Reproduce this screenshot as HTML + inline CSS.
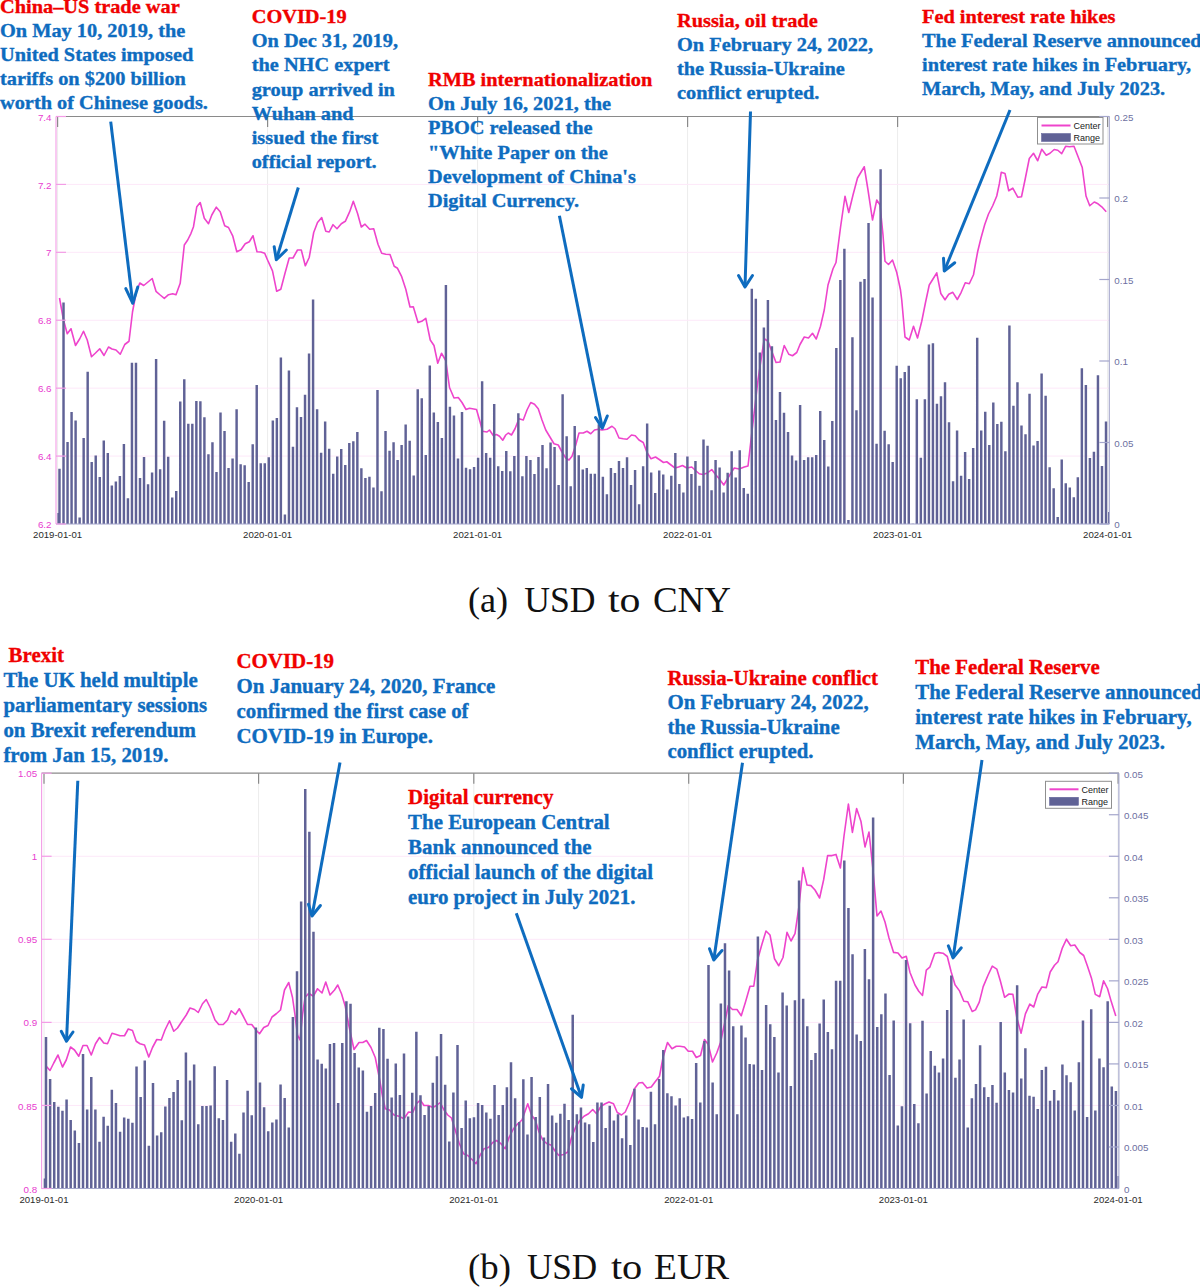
<!DOCTYPE html>
<html><head><meta charset="utf-8"><title>USD exchange rates</title><style>
html,body{margin:0;padding:0;background:#fff;overflow:hidden;width:1200px;height:1288px;}
svg{display:block;}
.an{font-family:"Liberation Serif",serif;font-weight:bold;font-size:19.35px;stroke-width:0.35px;}
.an2{font-family:"Liberation Serif",serif;font-weight:bold;font-size:20.9px;stroke-width:0.35px;}
.ax{font-family:"Liberation Sans",sans-serif;font-size:9.8px;}
.xl{font-family:"Liberation Sans",sans-serif;font-size:9.6px;fill:#2a2a2a;}
.lg{font-family:"Liberation Sans",sans-serif;font-size:9px;fill:#1a1a1a;}
.cap{font-family:"Liberation Serif",serif;font-size:35px;fill:#111;}
</style></head>
<body><svg width="1200" height="1288" viewBox="0 0 1200 1288">
<rect x="0" y="0" width="1200" height="1288" fill="#fff"/>
<line x1="57.6" y1="116.5" x2="57.6" y2="524" stroke="#ececec" stroke-width="1"/>
<line x1="267.6" y1="116.5" x2="267.6" y2="524" stroke="#ececec" stroke-width="1"/>
<line x1="477.6" y1="116.5" x2="477.6" y2="524" stroke="#ececec" stroke-width="1"/>
<line x1="687.6" y1="116.5" x2="687.6" y2="524" stroke="#ececec" stroke-width="1"/>
<line x1="897.6" y1="116.5" x2="897.6" y2="524" stroke="#ececec" stroke-width="1"/>
<line x1="1107.6" y1="116.5" x2="1107.6" y2="524" stroke="#ececec" stroke-width="1"/>
<line x1="56" y1="184.42" x2="1109.3" y2="184.42" stroke="#fde8f9" stroke-width="1"/>
<line x1="56" y1="252.33" x2="1109.3" y2="252.33" stroke="#fde8f9" stroke-width="1"/>
<line x1="56" y1="320.25" x2="1109.3" y2="320.25" stroke="#fde8f9" stroke-width="1"/>
<line x1="56" y1="388.17" x2="1109.3" y2="388.17" stroke="#fde8f9" stroke-width="1"/>
<line x1="56" y1="456.08" x2="1109.3" y2="456.08" stroke="#fde8f9" stroke-width="1"/>
<polyline points="59.5,298 63.5,320 67.25,333.75 71,328.75 75.5,345.5 79.75,338.75 83.5,331.25 87.25,340 91.5,356.75 95.5,353 99.75,348.75 104,355.5 108.5,347 112,349 116,350 120.25,354.25 124.75,344.5 129,341.25 132.5,312 136.3,292 139.8,283 143.7,285.5 148,282 152.2,278.5 156,291.3 160.2,295 164.3,298.3 168.5,294.7 172.7,293.8 176,294.7 180.2,283.3 184.3,245 187.7,240 191,233.3 193.5,226.7 196.8,206.7 200.2,202.5 204.3,218.3 208.5,223.7 211.8,215 216.3,207.2 220.2,211.7 224.7,225.8 228.5,227.5 232.7,235.8 236.8,251.7 241,249.7 245.2,243.7 249.3,241.7 253,235.8 257,251.7 260.8,252 264.7,253.3 268.3,261.7 272.5,270.8 276.7,291.3 280.8,289.2 285,273.3 289.2,258 293,258 297.5,250 301.3,250 305.3,265.8 309.2,257.5 313.7,232.5 317.5,222.5 321.7,217.5 325.8,231.3 329.2,232 333,224.7 337,228.7 341.3,223.7 345.3,221.3 349.7,211.7 353.3,201.3 357.5,213.3 361.3,227 365,224.2 369.7,229.3 373.7,228.7 378,244.2 381.7,253.3 385.8,254.2 390,254.5 394.2,266.3 397.5,268.3 401.7,276.7 405.8,289.2 410,307 413.3,306.7 418,322.5 421.7,321.3 425.8,318.3 430.25,340 434,345.5 437.75,363.25 441.5,353.25 445.75,360.5 449.5,387.5 454,398 458.25,397.5 462,402.5 466,409.5 469.5,408.25 476.5,409.5 480.25,422.5 482.5,431.25 487,432 489.5,430 493.25,435.5 496.5,434.5 499.5,436.25 502.75,440.25 505.75,435 508.25,433 511.5,435 515,428.75 519,418.75 523.25,420 527,410 530.75,402.5 534.5,404.25 538.25,408.75 542,420 545.75,430 549.5,436.25 554,443.75 558.25,445 562,452 565.75,458 569,460 572,456.25 575.75,445 579,433 583.25,433 587,431.25 590.75,433.75 594.5,430 598.25,429.25 602,430 607,429.25 612,426.25 615,428.75 619,438 623.25,438.75 627,439.25 631.5,435 635.25,435.75 639,440 643.25,442.5 647,452.5 651,458.75 655.5,457 659.25,459.5 663.5,462.5 666.75,461.75 671,465 675,468 678.5,467 682.5,465.5 686.75,468 691.75,467 695.5,470.5 699.25,473.75 703,474.5 707.5,473 711.75,469.5 715.5,474.5 719.25,478.75 723.75,485 727.5,478.75 731.25,472.5 734.25,468 739.25,469 744.25,467 748,466 753,422.5 758,380 761.75,355 764.25,338.75 768,341.25 771.75,351.25 776,362.5 780,362 784.25,345.5 788.75,354.25 792.5,355.75 796.75,352.5 800,344.5 804.25,337 808.5,338 812.5,333.25 816.25,339 820.5,326.25 824.25,310 828,285 833,268.75 836,262.5 840.5,227.5 845,196.25 848.75,212.5 853,195 857.5,178 864.25,166.75 868,190 872.5,220 876.75,200 880,205 883,235 885,261.25 888.5,264.5 892.5,260 896.75,272.5 900.5,290 901.75,300 905,337 909.25,340 913.5,326.25 917.5,338 921.75,321.25 925.5,302.5 929.25,285 933.3,278.5 936.75,272.8 940.8,293.5 945,299.8 948.75,294.25 952.8,292.3 957.3,299.5 961.2,292.3 965.25,282.7 969.3,283.75 973.5,274.75 975.75,262 977.7,251.5 981,238 984.75,224.5 988.5,214 992.7,205.75 996.75,196 999.3,184 1001.25,172.3 1005,173.5 1008.75,190.75 1012.8,188.2 1017.75,197.2 1021.5,196.75 1025.25,178.75 1029.3,158.5 1033.5,153.25 1037.7,160.75 1041.75,149.2 1046.25,155.2 1050,153.25 1054.2,149.5 1057.8,150.25 1061.7,153.7 1065.75,146.2 1069.5,146.8 1074,146.2 1078.2,157 1082.25,167.5 1086,196 1089.75,205.75 1094.25,202 1098,203.8 1101.75,206.8 1106.25,211.75" fill="none" stroke="#ee44cc" stroke-width="1.6" stroke-linejoin="round"/>
<path d="M58.27 468.75h2.45v55.25h-2.45zM62.3 302.5h2.45v221.5h-2.45zM66.33 442h2.45v82h-2.45zM70.35 412h2.45v112h-2.45zM74.38 420.5h2.45v103.5h-2.45zM78.4 517.5h2.45v6.5h-2.45zM82.43 438h2.45v86h-2.45zM86.45 371.75h2.45v152.25h-2.45zM90.48 462h2.45v62h-2.45zM94.5 455.5h2.45v68.5h-2.45zM98.53 477h2.45v47h-2.45zM102.55 440.5h2.45v83.5h-2.45zM106.58 453h2.45v71h-2.45zM110.6 485.5h2.45v38.5h-2.45zM114.63 481.5h2.45v42.5h-2.45zM118.65 476h2.45v48h-2.45zM122.68 444h2.45v80h-2.45zM126.7 498.25h2.45v25.75h-2.45zM130.72 362.75h2.45v161.25h-2.45zM134.75 362.75h2.45v161.25h-2.45zM138.78 478h2.45v46h-2.45zM142.8 457h2.45v67h-2.45zM146.83 484.25h2.45v39.75h-2.45zM150.85 472.5h2.45v51.5h-2.45zM154.88 359h2.45v165h-2.45zM158.9 469.25h2.45v54.75h-2.45zM162.93 420.75h2.45v103.25h-2.45zM166.95 456.75h2.45v67.25h-2.45zM170.98 497.5h2.45v26.5h-2.45zM175 491h2.45v33h-2.45zM179.03 401.5h2.45v122.5h-2.45zM183.05 379.25h2.45v144.75h-2.45zM187.08 423.75h2.45v100.25h-2.45zM191.1 423.75h2.45v100.25h-2.45zM195.13 401h2.45v123h-2.45zM199.15 401.25h2.45v122.75h-2.45zM203.18 417.25h2.45v106.75h-2.45zM207.2 454.25h2.45v69.75h-2.45zM211.23 442.25h2.45v81.75h-2.45zM215.25 472h2.45v52h-2.45zM219.28 412.5h2.45v111.5h-2.45zM223.3 431h2.45v93h-2.45zM227.33 468h2.45v56h-2.45zM231.35 458.5h2.45v65.5h-2.45zM235.38 409.25h2.45v114.75h-2.45zM239.4 464.25h2.45v59.75h-2.45zM243.43 465.25h2.45v58.75h-2.45zM247.45 482h2.45v42h-2.45zM251.48 444.25h2.45v79.75h-2.45zM255.5 385h2.45v139h-2.45zM259.52 463.25h2.45v60.75h-2.45zM263.55 463.25h2.45v60.75h-2.45zM267.57 457.25h2.45v66.75h-2.45zM271.6 420.5h2.45v103.5h-2.45zM275.62 418h2.45v106h-2.45zM279.65 357.5h2.45v166.5h-2.45zM283.68 514.5h2.45v9.5h-2.45zM287.7 370.5h2.45v153.5h-2.45zM291.73 446.75h2.45v77.25h-2.45zM295.75 407.25h2.45v116.75h-2.45zM299.77 417h2.45v107h-2.45zM303.8 394.75h2.45v129.25h-2.45zM307.82 353.5h2.45v170.5h-2.45zM311.85 299.5h2.45v224.5h-2.45zM315.88 409.25h2.45v114.75h-2.45zM319.9 452.75h2.45v71.25h-2.45zM323.93 421.5h2.45v102.5h-2.45zM327.95 448.75h2.45v75.25h-2.45zM331.98 473.75h2.45v50.25h-2.45zM336 456.5h2.45v67.5h-2.45zM340.02 449h2.45v75h-2.45zM344.05 465h2.45v59h-2.45zM348.07 443h2.45v81h-2.45zM352.1 441.25h2.45v82.75h-2.45zM356.12 432h2.45v92h-2.45zM360.15 468.25h2.45v55.75h-2.45zM364.18 478h2.45v46h-2.45zM368.2 476.75h2.45v47.25h-2.45zM372.23 487.5h2.45v36.5h-2.45zM376.25 390h2.45v134h-2.45zM380.27 491.25h2.45v32.75h-2.45zM384.3 431h2.45v93h-2.45zM388.32 450.75h2.45v73.25h-2.45zM392.35 442.25h2.45v81.75h-2.45zM396.38 460h2.45v64h-2.45zM400.4 445h2.45v79h-2.45zM404.43 424.5h2.45v99.5h-2.45zM408.45 440.75h2.45v83.25h-2.45zM412.48 475.5h2.45v48.5h-2.45zM416.5 389.25h2.45v134.75h-2.45zM420.53 398.25h2.45v125.75h-2.45zM424.55 455h2.45v69h-2.45zM428.57 365.5h2.45v158.5h-2.45zM432.6 412.5h2.45v111.5h-2.45zM436.62 422h2.45v102h-2.45zM440.65 438h2.45v86h-2.45zM444.68 285h2.45v239h-2.45zM448.7 406.75h2.45v117.25h-2.45zM452.73 415.5h2.45v108.5h-2.45zM456.75 458.5h2.45v65.5h-2.45zM460.78 412h2.45v112h-2.45zM464.8 467.75h2.45v56.25h-2.45zM468.82 469.25h2.45v54.75h-2.45zM472.85 467h2.45v57h-2.45zM476.88 457.75h2.45v66.25h-2.45zM480.9 381.25h2.45v142.75h-2.45zM484.93 453h2.45v71h-2.45zM488.95 457.75h2.45v66.25h-2.45zM492.98 404h2.45v120h-2.45zM497 466.25h2.45v57.75h-2.45zM501.03 471h2.45v53h-2.45zM505.05 451h2.45v73h-2.45zM509.08 471.25h2.45v52.75h-2.45zM513.1 456h2.45v68h-2.45zM517.12 413.25h2.45v110.75h-2.45zM521.15 476.25h2.45v47.75h-2.45zM525.18 456h2.45v68h-2.45zM529.2 460h2.45v64h-2.45zM533.23 474h2.45v50h-2.45zM537.25 457h2.45v67h-2.45zM541.27 445h2.45v79h-2.45zM545.3 468.25h2.45v55.75h-2.45zM549.33 442.5h2.45v81.5h-2.45zM553.35 447h2.45v77h-2.45zM557.38 485h2.45v39h-2.45zM561.4 394.25h2.45v129.75h-2.45zM565.43 436.25h2.45v87.75h-2.45zM569.45 486.25h2.45v37.75h-2.45zM573.48 426h2.45v98h-2.45zM577.5 455.25h2.45v68.75h-2.45zM581.52 469.5h2.45v54.5h-2.45zM585.55 468h2.45v56h-2.45zM589.58 473.75h2.45v50.25h-2.45zM593.6 473.75h2.45v50.25h-2.45zM597.62 424.25h2.45v99.75h-2.45zM601.65 476.75h2.45v47.25h-2.45zM605.68 494.25h2.45v29.75h-2.45zM609.7 468h2.45v56h-2.45zM613.73 473h2.45v51h-2.45zM617.75 461h2.45v63h-2.45zM621.77 468h2.45v56h-2.45zM625.8 457.25h2.45v66.75h-2.45zM629.83 485h2.45v39h-2.45zM633.85 470h2.45v54h-2.45zM637.88 504.25h2.45v19.75h-2.45zM641.9 466.25h2.45v57.75h-2.45zM645.93 423.5h2.45v100.5h-2.45zM649.95 472.5h2.45v51.5h-2.45zM653.98 493h2.45v31h-2.45zM658 470.5h2.45v53.5h-2.45zM662.02 474.5h2.45v49.5h-2.45zM666.05 489.5h2.45v34.5h-2.45zM670.08 475.75h2.45v48.25h-2.45zM674.1 453h2.45v71h-2.45zM678.12 484h2.45v40h-2.45zM682.15 492.5h2.45v31.5h-2.45zM686.18 456.5h2.45v67.5h-2.45zM690.2 474h2.45v50h-2.45zM694.23 461h2.45v63h-2.45zM698.25 485.75h2.45v38.25h-2.45zM702.27 439.5h2.45v84.5h-2.45zM706.3 445.75h2.45v78.25h-2.45zM710.33 490.25h2.45v33.75h-2.45zM714.35 460h2.45v64h-2.45zM718.38 467.5h2.45v56.5h-2.45zM722.4 492.5h2.45v31.5h-2.45zM726.43 472.75h2.45v51.25h-2.45zM730.45 451.25h2.45v72.75h-2.45zM734.48 477.5h2.45v46.5h-2.45zM738.5 450.25h2.45v73.75h-2.45zM742.53 488h2.45v36h-2.45zM746.55 493.75h2.45v30.25h-2.45zM750.58 288.75h2.45v235.25h-2.45zM754.6 298.75h2.45v225.25h-2.45zM758.62 352.5h2.45v171.5h-2.45zM762.65 327.5h2.45v196.5h-2.45zM766.68 300h2.45v224h-2.45zM770.7 346.25h2.45v177.75h-2.45zM774.73 420h2.45v104h-2.45zM778.75 392h2.45v132h-2.45zM782.78 412.75h2.45v111.25h-2.45zM786.8 432h2.45v92h-2.45zM790.83 455.5h2.45v68.5h-2.45zM794.85 460.5h2.45v63.5h-2.45zM798.88 405h2.45v119h-2.45zM802.9 460h2.45v64h-2.45zM806.93 457.25h2.45v66.75h-2.45zM810.95 457.25h2.45v66.75h-2.45zM814.98 455h2.45v69h-2.45zM819 411h2.45v113h-2.45zM823.03 440h2.45v84h-2.45zM827.05 466.5h2.45v57.5h-2.45zM831.08 421h2.45v103h-2.45zM835.1 348h2.45v176h-2.45zM839.12 280h2.45v244h-2.45zM843.15 248.75h2.45v275.25h-2.45zM847.18 520h2.45v4h-2.45zM851.2 337.25h2.45v186.75h-2.45zM855.23 410.25h2.45v113.75h-2.45zM859.25 281.75h2.45v242.25h-2.45zM863.28 279h2.45v245h-2.45zM867.3 223h2.45v301h-2.45zM871.33 297.5h2.45v226.5h-2.45zM875.35 443.75h2.45v80.25h-2.45zM879.38 169.25h2.45v354.75h-2.45zM883.4 430.75h2.45v93.25h-2.45zM887.43 444.25h2.45v79.75h-2.45zM891.45 462h2.45v62h-2.45zM895.48 365.75h2.45v158.25h-2.45zM899.5 378.25h2.45v145.75h-2.45zM903.53 372h2.45v152h-2.45zM907.55 365.75h2.45v158.25h-2.45zM911.58 523.75h2.45v0.25h-2.45zM915.6 399.25h2.45v124.75h-2.45zM919.62 457.75h2.45v66.25h-2.45zM923.65 399.25h2.45v124.75h-2.45zM927.68 344.5h2.45v179.5h-2.45zM931.7 343.25h2.45v180.75h-2.45zM935.73 403.75h2.45v120.25h-2.45zM939.75 396.25h2.45v127.75h-2.45zM943.78 382.25h2.45v141.75h-2.45zM947.8 422.33h2.45v101.67h-2.45zM951.83 481.36h2.45v42.64h-2.45zM955.85 430.49h2.45v93.51h-2.45zM959.88 475.73h2.45v48.27h-2.45zM963.9 452.04h2.45v71.96h-2.45zM967.93 479.03h2.45v44.97h-2.45zM971.95 447.96h2.45v76.04h-2.45zM975.98 337.86h2.45v186.14h-2.45zM980 430.49h2.45v93.51h-2.45zM984.03 411.65h2.45v112.35h-2.45zM988.05 445.05h2.45v78.95h-2.45zM992.08 402.52h2.45v121.48h-2.45zM996.1 424.08h2.45v99.92h-2.45zM1000.13 421.75h2.45v102.25h-2.45zM1004.15 451.26h2.45v72.74h-2.45zM1008.18 325.44h2.45v198.56h-2.45zM1012.2 405.63h2.45v118.37h-2.45zM1016.23 382.33h2.45v141.67h-2.45zM1020.25 425.44h2.45v98.56h-2.45zM1024.28 434.37h2.45v89.63h-2.45zM1028.3 393.79h2.45v130.21h-2.45zM1032.33 445.44h2.45v78.56h-2.45zM1036.35 440.97h2.45v83.03h-2.45zM1040.38 373.4h2.45v150.6h-2.45zM1044.4 395.73h2.45v128.27h-2.45zM1048.43 467.18h2.45v56.82h-2.45zM1052.45 488.16h2.45v35.84h-2.45zM1056.48 516.89h2.45v7.11h-2.45zM1060.5 459.42h2.45v64.58h-2.45zM1064.53 483.3h2.45v40.7h-2.45zM1068.55 487.38h2.45v36.62h-2.45zM1072.58 497.28h2.45v26.72h-2.45zM1076.6 477.28h2.45v46.72h-2.45zM1080.63 368.35h2.45v155.65h-2.45zM1084.65 385.05h2.45v138.95h-2.45zM1088.68 458.06h2.45v65.94h-2.45zM1092.7 451.84h2.45v72.16h-2.45zM1096.73 375.34h2.45v148.66h-2.45zM1100.75 466.02h2.45v57.98h-2.45zM1104.78 421.55h2.45v102.45h-2.45zM57.4 513h1.2v11h-1.2zM1108 512h1.2v12h-1.2z" fill="#606296"/>
<line x1="56" y1="116.5" x2="1109.3" y2="116.5" stroke="#8a8a8a" stroke-width="1.2"/>
<line x1="56" y1="524" x2="1109.3" y2="524" stroke="#a4a6cc" stroke-width="1.2"/>
<line x1="57.6" y1="116.5" x2="57.6" y2="127" stroke="#8a8a8a" stroke-width="1.2"/>
<line x1="267.6" y1="116.5" x2="267.6" y2="127" stroke="#8a8a8a" stroke-width="1.2"/>
<line x1="477.6" y1="116.5" x2="477.6" y2="127" stroke="#8a8a8a" stroke-width="1.2"/>
<line x1="687.6" y1="116.5" x2="687.6" y2="127" stroke="#8a8a8a" stroke-width="1.2"/>
<line x1="897.6" y1="116.5" x2="897.6" y2="127" stroke="#8a8a8a" stroke-width="1.2"/>
<line x1="1107.6" y1="116.5" x2="1107.6" y2="127" stroke="#8a8a8a" stroke-width="1.2"/>
<line x1="56" y1="116.5" x2="56" y2="524" stroke="#f39de6" stroke-width="1.1"/>
<line x1="56" y1="116.5" x2="66" y2="116.5" stroke="#f39de6" stroke-width="1.2"/>
<text x="51.5" y="120.6" text-anchor="end" class="ax" fill="#e83ccf">7.4</text>
<line x1="56" y1="184.42" x2="66" y2="184.42" stroke="#f39de6" stroke-width="1.2"/>
<text x="51.5" y="188.52" text-anchor="end" class="ax" fill="#e83ccf">7.2</text>
<line x1="56" y1="252.33" x2="66" y2="252.33" stroke="#f39de6" stroke-width="1.2"/>
<text x="51.5" y="256.43" text-anchor="end" class="ax" fill="#e83ccf">7</text>
<line x1="56" y1="320.25" x2="66" y2="320.25" stroke="#f39de6" stroke-width="1.2"/>
<text x="51.5" y="324.35" text-anchor="end" class="ax" fill="#e83ccf">6.8</text>
<line x1="56" y1="388.17" x2="66" y2="388.17" stroke="#f39de6" stroke-width="1.2"/>
<text x="51.5" y="392.27" text-anchor="end" class="ax" fill="#e83ccf">6.6</text>
<line x1="56" y1="456.08" x2="66" y2="456.08" stroke="#f39de6" stroke-width="1.2"/>
<text x="51.5" y="460.18" text-anchor="end" class="ax" fill="#e83ccf">6.4</text>
<line x1="56" y1="524" x2="66" y2="524" stroke="#f39de6" stroke-width="1.2"/>
<text x="51.5" y="528.1" text-anchor="end" class="ax" fill="#e83ccf">6.2</text>
<line x1="1109.3" y1="116.5" x2="1109.3" y2="524" stroke="#a4a6cc" stroke-width="1.1"/>
<line x1="1099.3" y1="116.5" x2="1109.3" y2="116.5" stroke="#a4a6cc" stroke-width="1.2"/>
<text x="1114.3" y="120.8" class="ax" fill="#6d6f9f">0.25</text>
<line x1="1099.3" y1="198" x2="1109.3" y2="198" stroke="#a4a6cc" stroke-width="1.2"/>
<text x="1114.3" y="202.3" class="ax" fill="#6d6f9f">0.2</text>
<line x1="1099.3" y1="279.5" x2="1109.3" y2="279.5" stroke="#a4a6cc" stroke-width="1.2"/>
<text x="1114.3" y="283.8" class="ax" fill="#6d6f9f">0.15</text>
<line x1="1099.3" y1="361" x2="1109.3" y2="361" stroke="#a4a6cc" stroke-width="1.2"/>
<text x="1114.3" y="365.3" class="ax" fill="#6d6f9f">0.1</text>
<line x1="1099.3" y1="442.5" x2="1109.3" y2="442.5" stroke="#a4a6cc" stroke-width="1.2"/>
<text x="1114.3" y="446.8" class="ax" fill="#6d6f9f">0.05</text>
<line x1="1099.3" y1="524" x2="1109.3" y2="524" stroke="#a4a6cc" stroke-width="1.2"/>
<text x="1114.3" y="528.3" class="ax" fill="#6d6f9f">0</text>
<text x="57.6" y="538" text-anchor="middle" class="xl">2019-01-01</text>
<text x="267.6" y="538" text-anchor="middle" class="xl">2020-01-01</text>
<text x="477.6" y="538" text-anchor="middle" class="xl">2021-01-01</text>
<text x="687.6" y="538" text-anchor="middle" class="xl">2022-01-01</text>
<text x="897.6" y="538" text-anchor="middle" class="xl">2023-01-01</text>
<text x="1107.6" y="538" text-anchor="middle" class="xl">2024-01-01</text>
<rect x="1037.5" y="117.5" width="65.5" height="26.5" fill="#fff" stroke="#8f8f8f" stroke-width="1"/>
<line x1="1041.5" y1="125.5" x2="1070.5" y2="125.5" stroke="#ee44cc" stroke-width="2"/>
<rect x="1041.5" y="133.5" width="29" height="8" fill="#606296" stroke="#5a5c95" stroke-width="0.5"/>
<text x="1073.5" y="129" class="lg">Center</text>
<text x="1073.5" y="141" class="lg">Range</text>
<line x1="44" y1="773.2" x2="44" y2="1188.5" stroke="#ececec" stroke-width="1"/>
<line x1="258.6" y1="773.2" x2="258.6" y2="1188.5" stroke="#ececec" stroke-width="1"/>
<line x1="473.8" y1="773.2" x2="473.8" y2="1188.5" stroke="#ececec" stroke-width="1"/>
<line x1="688.7" y1="773.2" x2="688.7" y2="1188.5" stroke="#ececec" stroke-width="1"/>
<line x1="903.4" y1="773.2" x2="903.4" y2="1188.5" stroke="#ececec" stroke-width="1"/>
<line x1="1118.1" y1="773.2" x2="1118.1" y2="1188.5" stroke="#ececec" stroke-width="1"/>
<line x1="41.6" y1="856.26" x2="1118.9" y2="856.26" stroke="#fde8f9" stroke-width="1"/>
<line x1="41.6" y1="939.32" x2="1118.9" y2="939.32" stroke="#fde8f9" stroke-width="1"/>
<line x1="41.6" y1="1022.38" x2="1118.9" y2="1022.38" stroke="#fde8f9" stroke-width="1"/>
<line x1="41.6" y1="1105.44" x2="1118.9" y2="1105.44" stroke="#fde8f9" stroke-width="1"/>
<polyline points="46.25,1066.25 50,1070.5 53.75,1063 58,1055 62.5,1067 66.25,1060 70.5,1047 74.5,1050 78.75,1056.25 83,1045.5 87,1045.5 91.25,1055 95.5,1043.75 99.5,1037.5 103.75,1043 107.5,1043.75 112,1033.25 116.25,1034.5 120,1035.75 124.5,1035.75 128.25,1029 132.5,1030.5 136.25,1041.25 140,1043.75 144.5,1045 148.75,1057 152.5,1047.5 156.75,1039.5 161.25,1040 165,1030 169.5,1020.75 173.75,1031.25 177.5,1028 182,1021.25 186.25,1015 190,1008 194.5,1009.5 198.25,1012.5 202.5,1003.75 206.25,999.5 210.75,1008.75 215,1020 218.75,1024.5 223.25,1024.5 227.5,1020 231.25,1010.75 235.5,1014.5 239.25,1008.75 243.25,1016.25 247.5,1024.5 251.75,1024.5 255.5,1029.5 259.5,1033.75 263.75,1027.5 268,1025.5 272,1017 276.25,1013.75 280.5,1010 284.5,990 288.75,982.5 292.5,997.5 295,1015 297.5,1035 300,1040 302.5,1015 305,997.5 308.75,993.25 313.25,996.25 317.5,988.75 322,993 325.75,982 330,995 334.5,990 337.75,985 341.5,993.75 345.25,1006.25 349,1026.25 354,1049.5 359,1042.5 362.75,1042.5 366.5,1040.5 371,1047.5 375.25,1057.5 379,1076.25 382.75,1097.5 385.25,1108.75 389.5,1110 394,1115 399,1116.25 404,1118.75 408.5,1112 412.75,1112.5 416.5,1103.75 420.25,1100 424,1105.5 428.5,1105.5 432.75,1107.5 436.5,1105.5 440.25,1102.5 444,1110 447.75,1115 451.5,1118 455.25,1130 459,1142.5 463.5,1153.75 467.75,1155.5 472,1159.5 476,1163.75 480.25,1155 484,1148.75 488.5,1147.5 492.75,1142.5 496.5,1140.5 501,1143.75 505.25,1148.75 509,1137.5 513.5,1128.75 517.75,1123.75 522,1120 527.75,1103.75 531.5,1115 535.25,1120 539,1132 542.75,1140 547,1143.75 551,1145 555.25,1151.25 559,1155.5 563.5,1154.5 567.75,1152 571.5,1137.5 576,1126.25 580.25,1120 584,1116.25 588.5,1113.75 592.75,1109.5 596.5,1113.75 601,1106.25 605.25,1103.75 609,1102 613.5,1103.75 617.25,1112.5 621.5,1115 625.25,1112 629.5,1102.5 634.5,1088.75 638.75,1083 642.5,1082.5 647,1088 651.25,1087 655,1082 659.5,1076.25 663,1057.5 667.5,1042.5 672,1048.75 676.25,1046.25 680,1046.25 684.5,1047 688.25,1051.25 692.5,1051.25 696.25,1057.5 700.5,1055.5 704.5,1039.5 708.25,1044.5 712.5,1062 716.75,1053 720.5,1042.5 724.5,1023.75 728.25,1005.5 732.5,1009.5 737,1009.5 741.25,1015.75 745.5,1002 750,986.25 753.75,986.25 757.5,960 762,944 766,931 770,935 774.5,958.75 778.75,965.75 783,957.5 787,932.4 791,941 795,933.6 799,906 803,867.6 807,885 811,885.6 815,890 819.6,898 823.6,880 827.6,855.6 832,855.6 836,854.4 840.4,868 844,836 848.4,804 852.4,832.4 856.6,808.6 861,821.6 865,847 869,832 873,870 877,916 881,911 885,922 889,938 893.6,952.4 898,953 902,958 906.25,956.25 910,972.5 915,985 918.75,991.25 922.5,995.5 926.3,970.1 929.8,967.2 934.7,953.6 938.6,952.6 943,953.2 947.3,956.5 951.2,972 955,984.7 959.5,990.9 963.8,1001.2 967.7,1001.7 972.2,1011.5 975.5,1009.9 979.3,1002.1 983.2,986.6 988.1,975 992.3,966.2 996.8,969.1 1000.3,980.8 1004.6,997.3 1009,994 1012.9,994.4 1016.8,1017.7 1021.1,1033.2 1025.4,1013.8 1029.8,1004.1 1033.7,1007 1037.6,994.4 1041.9,987 1046.3,987.6 1050.2,972 1054.5,965.2 1058,961.7 1062.4,947.8 1066.5,939.2 1070.7,945.8 1074.8,945 1079.8,952.5 1083.7,955.5 1087.5,966.2 1091.4,977.9 1095.3,994.4 1099.7,996.7 1103.6,980.8 1107.5,988.5 1111.4,1002.1 1115.8,1016.1" fill="none" stroke="#ee44cc" stroke-width="1.6" stroke-linejoin="round"/>
<path d="M44.75 1037h2.5v151.5h-2.5zM48.87 1079h2.5v109.5h-2.5zM52.98 1102h2.5v86.5h-2.5zM57.09 1106.75h2.5v81.75h-2.5zM61.21 1110.75h2.5v77.75h-2.5zM65.33 1099.5h2.5v89h-2.5zM69.44 1120h2.5v68.5h-2.5zM73.56 1130.5h2.5v58h-2.5zM77.67 1143h2.5v45.5h-2.5zM81.78 1054h2.5v134.5h-2.5zM85.9 1109.5h2.5v79h-2.5zM90.02 1077h2.5v111.5h-2.5zM94.13 1109.5h2.5v79h-2.5zM98.25 1141.75h2.5v46.75h-2.5zM102.36 1116.75h2.5v71.75h-2.5zM106.47 1125.75h2.5v62.75h-2.5zM110.59 1089.75h2.5v98.75h-2.5zM114.7 1103h2.5v85.5h-2.5zM118.82 1131.75h2.5v56.75h-2.5zM122.94 1117.5h2.5v71h-2.5zM127.05 1118.75h2.5v69.75h-2.5zM131.17 1122.75h2.5v65.75h-2.5zM135.28 1066.5h2.5v122h-2.5zM139.4 1097h2.5v91.5h-2.5zM143.51 1060.5h2.5v128h-2.5zM147.62 1145.75h2.5v42.75h-2.5zM151.74 1083h2.5v105.5h-2.5zM155.86 1135.5h2.5v53h-2.5zM159.97 1132.25h2.5v56.25h-2.5zM164.09 1106.5h2.5v82h-2.5zM168.2 1098h2.5v90.5h-2.5zM172.31 1092h2.5v96.5h-2.5zM176.43 1080h2.5v108.5h-2.5zM180.55 1120.25h2.5v68.25h-2.5zM184.66 1052.5h2.5v136h-2.5zM188.78 1080.5h2.5v108h-2.5zM192.89 1064.5h2.5v124h-2.5zM197 1124.25h2.5v64.25h-2.5zM201.12 1106h2.5v82.5h-2.5zM205.24 1106h2.5v82.5h-2.5zM209.35 1105.5h2.5v83h-2.5zM213.47 1066.25h2.5v122.25h-2.5zM217.58 1118.25h2.5v70.25h-2.5zM221.7 1120h2.5v68.5h-2.5zM225.81 1080h2.5v108.5h-2.5zM229.93 1141.75h2.5v46.75h-2.5zM234.04 1133.5h2.5v55h-2.5zM238.16 1153.75h2.5v34.75h-2.5zM242.27 1112.5h2.5v76h-2.5zM246.39 1090.75h2.5v97.75h-2.5zM250.5 1115.25h2.5v73.25h-2.5zM254.62 1027.5h2.5v161h-2.5zM258.73 1082.5h2.5v106h-2.5zM262.85 1107.25h2.5v81.25h-2.5zM266.96 1131.25h2.5v57.25h-2.5zM271.08 1122.5h2.5v66h-2.5zM275.19 1119.5h2.5v69h-2.5zM279.31 1084.5h2.5v104h-2.5zM283.42 1098h2.5v90.5h-2.5zM287.54 1127.5h2.5v61h-2.5zM291.65 1017h2.5v171.5h-2.5zM295.76 971.25h2.5v217.25h-2.5zM299.88 901.4h2.5v287.1h-2.5zM304 788.9h2.5v399.6h-2.5zM308.11 831.8h2.5v356.7h-2.5zM312.23 931.8h2.5v256.7h-2.5zM316.34 1059.5h2.5v129h-2.5zM320.46 1063.75h2.5v124.75h-2.5zM324.57 1068.5h2.5v120h-2.5zM328.69 1044h2.5v144.5h-2.5zM332.8 1043h2.5v145.5h-2.5zM336.92 1103h2.5v85.5h-2.5zM341.03 1043h2.5v145.5h-2.5zM345.15 1001.25h2.5v187.25h-2.5zM349.26 1003.75h2.5v184.75h-2.5zM353.38 1053h2.5v135.5h-2.5zM357.49 1067.5h2.5v121h-2.5zM361.61 1070.5h2.5v118h-2.5zM365.72 1111.75h2.5v76.75h-2.5zM369.84 1106h2.5v82.5h-2.5zM373.95 1093h2.5v95.5h-2.5zM378.06 1027.75h2.5v160.75h-2.5zM382.18 1029h2.5v159.5h-2.5zM386.3 1058.75h2.5v129.75h-2.5zM390.41 1097.5h2.5v91h-2.5zM394.53 1063.5h2.5v125h-2.5zM398.64 1095h2.5v93.5h-2.5zM402.75 1053.5h2.5v135h-2.5zM406.87 1116.5h2.5v72h-2.5zM410.99 1092.75h2.5v95.75h-2.5zM415.1 1031.75h2.5v156.75h-2.5zM419.22 1095.25h2.5v93.25h-2.5zM423.33 1115h2.5v73.5h-2.5zM427.44 1106h2.5v82.5h-2.5zM431.56 1082.75h2.5v105.75h-2.5zM435.68 1056.25h2.5v132.25h-2.5zM439.79 1034h2.5v154.5h-2.5zM443.91 1084.75h2.5v103.75h-2.5zM448.02 1141.5h2.5v47h-2.5zM452.14 1092.5h2.5v96h-2.5zM456.25 1045h2.5v143.5h-2.5zM460.37 1128h2.5v60.5h-2.5zM464.48 1100.5h2.5v88h-2.5zM468.6 1118.25h2.5v70.25h-2.5zM472.71 1117.25h2.5v71.25h-2.5zM476.83 1103h2.5v85.5h-2.5zM480.94 1105h2.5v83.5h-2.5zM485.06 1112.5h2.5v76h-2.5zM489.17 1118.75h2.5v69.75h-2.5zM493.29 1085h2.5v103.5h-2.5zM497.4 1115h2.5v73.5h-2.5zM501.52 1105h2.5v83.5h-2.5zM505.63 1087.25h2.5v101.25h-2.5zM509.75 1062.25h2.5v126.25h-2.5zM513.86 1098.25h2.5v90.25h-2.5zM517.98 1122h2.5v66.5h-2.5zM522.09 1079.25h2.5v109.25h-2.5zM526.21 1134.5h2.5v54h-2.5zM530.32 1077h2.5v111.5h-2.5zM534.43 1117h2.5v71.5h-2.5zM538.55 1097h2.5v91.5h-2.5zM542.66 1137.5h2.5v51h-2.5zM546.78 1084h2.5v104.5h-2.5zM550.89 1115.5h2.5v73h-2.5zM555.01 1122.75h2.5v65.75h-2.5zM559.12 1113.75h2.5v74.75h-2.5zM563.24 1103.75h2.5v84.75h-2.5zM567.36 1120h2.5v68.5h-2.5zM571.47 1014.75h2.5v173.75h-2.5zM575.59 1114.25h2.5v74.25h-2.5zM579.7 1107.5h2.5v81h-2.5zM583.82 1122.5h2.5v66h-2.5zM587.93 1124.25h2.5v64.25h-2.5zM592.05 1142h2.5v46.5h-2.5zM596.16 1102.5h2.5v86h-2.5zM600.27 1102.5h2.5v86h-2.5zM604.39 1128h2.5v60.5h-2.5zM608.5 1105.75h2.5v82.75h-2.5zM612.62 1120.5h2.5v68h-2.5zM616.74 1114.25h2.5v74.25h-2.5zM620.85 1138.25h2.5v50.25h-2.5zM624.97 1115.5h2.5v73h-2.5zM629.08 1145h2.5v43.5h-2.5zM633.2 1088.75h2.5v99.75h-2.5zM637.31 1119.5h2.5v69h-2.5zM641.43 1127h2.5v61.5h-2.5zM645.54 1127.5h2.5v61h-2.5zM649.66 1091.75h2.5v96.75h-2.5zM653.77 1124.25h2.5v64.25h-2.5zM657.88 1079h2.5v109.5h-2.5zM662 1050h2.5v138.5h-2.5zM666.12 1093.25h2.5v95.25h-2.5zM670.23 1096.25h2.5v92.25h-2.5zM674.35 1105.5h2.5v83h-2.5zM678.46 1098.25h2.5v90.25h-2.5zM682.58 1117.5h2.5v71h-2.5zM686.69 1116.25h2.5v72.25h-2.5zM690.81 1119h2.5v69.5h-2.5zM694.92 1063h2.5v125.5h-2.5zM699.04 1102.5h2.5v86h-2.5zM703.15 1041h2.5v147.5h-2.5zM707.26 965h2.5v223.5h-2.5zM711.38 1082.5h2.5v106h-2.5zM715.5 1114.25h2.5v74.25h-2.5zM719.61 1003.5h2.5v185h-2.5zM723.73 943.2h2.5v245.3h-2.5zM727.84 970.5h2.5v218h-2.5zM731.96 1026.25h2.5v162.25h-2.5zM736.07 1114.25h2.5v74.25h-2.5zM740.19 1025.5h2.5v163h-2.5zM744.3 1037.5h2.5v151h-2.5zM748.42 1064h2.5v124.5h-2.5zM752.53 1064.5h2.5v124h-2.5zM756.64 936.6h2.5v251.9h-2.5zM760.76 1070h2.5v118.5h-2.5zM764.88 1005h2.5v183.5h-2.5zM768.99 1024.25h2.5v164.25h-2.5zM773.11 1037h2.5v151.5h-2.5zM777.22 1072.5h2.5v116h-2.5zM781.34 992.5h2.5v196h-2.5zM785.45 1005.5h2.5v183h-2.5zM789.57 1086h2.5v102.5h-2.5zM793.68 1000.25h2.5v188.25h-2.5zM797.8 880.6h2.5v307.9h-2.5zM801.91 998.75h2.5v189.75h-2.5zM806.03 1026.25h2.5v162.25h-2.5zM810.14 1060h2.5v128.5h-2.5zM814.25 1053h2.5v135.5h-2.5zM818.37 1023.5h2.5v165h-2.5zM822.49 999.5h2.5v189h-2.5zM826.6 1032h2.5v156.5h-2.5zM830.72 1049.25h2.5v139.25h-2.5zM834.83 980.75h2.5v207.75h-2.5zM838.95 980.75h2.5v207.75h-2.5zM843.06 860.6h2.5v327.9h-2.5zM847.18 908h2.5v280.5h-2.5zM851.29 954.25h2.5v234.25h-2.5zM855.41 1034.5h2.5v154h-2.5zM859.52 1041h2.5v147.5h-2.5zM863.63 949h2.5v239.5h-2.5zM867.75 979.25h2.5v209.25h-2.5zM871.87 817.4h2.5v371.1h-2.5zM875.98 1027h2.5v161.5h-2.5zM880.1 1014.25h2.5v174.25h-2.5zM884.21 993.5h2.5v195h-2.5zM888.33 1075h2.5v113.5h-2.5zM892.44 1020.5h2.5v168h-2.5zM896.56 1125.5h2.5v63h-2.5zM900.67 1106.25h2.5v82.25h-2.5zM904.79 960h2.5v228.5h-2.5zM908.9 1023.25h2.5v165.25h-2.5zM913.02 1104h2.5v84.5h-2.5zM917.13 1123.25h2.5v65.25h-2.5zM921.25 1020.75h2.5v167.75h-2.5zM925.36 1093.4h2.5v95.1h-2.5zM929.48 1051.07h2.5v137.43h-2.5zM933.59 1065.63h2.5v122.87h-2.5zM937.71 1072.62h2.5v115.88h-2.5zM941.82 1058.45h2.5v130.05h-2.5zM945.94 1009.9h2.5v178.6h-2.5zM950.05 975.53h2.5v212.97h-2.5zM954.17 1077.86h2.5v110.64h-2.5zM958.28 1059.42h2.5v129.08h-2.5zM962.4 1019.61h2.5v168.89h-2.5zM966.51 1127.38h2.5v61.12h-2.5zM970.62 1098.25h2.5v90.25h-2.5zM974.74 1084.08h2.5v104.42h-2.5zM978.86 1045.24h2.5v143.26h-2.5zM982.97 1087.18h2.5v101.32h-2.5zM987.09 1096.89h2.5v91.61h-2.5zM991.2 1085.05h2.5v103.45h-2.5zM995.32 1102.72h2.5v85.78h-2.5zM999.43 1021.94h2.5v166.56h-2.5zM1003.55 1072.62h2.5v115.88h-2.5zM1007.66 1090.1h2.5v98.4h-2.5zM1011.78 1092.43h2.5v96.07h-2.5zM1015.89 985.24h2.5v203.26h-2.5zM1020 1078.45h2.5v110.05h-2.5zM1024.12 1048.35h2.5v140.15h-2.5zM1028.24 1095.73h2.5v92.77h-2.5zM1032.35 1096.7h2.5v91.8h-2.5zM1036.47 1108.93h2.5v79.57h-2.5zM1040.58 1070.1h2.5v118.4h-2.5zM1044.7 1066.8h2.5v121.7h-2.5zM1048.81 1100.78h2.5v87.72h-2.5zM1052.93 1090.1h2.5v98.4h-2.5zM1057.04 1100.39h2.5v88.11h-2.5zM1061.16 1064.47h2.5v124.03h-2.5zM1065.27 1075.34h2.5v113.16h-2.5zM1069.38 1082.14h2.5v106.36h-2.5zM1073.5 1110.49h2.5v78.01h-2.5zM1077.62 1062.33h2.5v126.17h-2.5zM1081.73 1020.58h2.5v167.92h-2.5zM1085.85 1116.89h2.5v71.61h-2.5zM1089.96 1009.32h2.5v179.18h-2.5zM1094.08 1110.49h2.5v78.01h-2.5zM1098.19 1058.45h2.5v130.05h-2.5zM1102.31 1067.18h2.5v121.32h-2.5zM1106.42 1001.17h2.5v187.33h-2.5zM1110.54 1086.6h2.5v101.9h-2.5zM1114.65 1091.07h2.5v97.43h-2.5zM43.7 1178.5h1.2v10h-1.2zM1117.6 1176h1.2v12.5h-1.2z" fill="#606296"/>
<line x1="41.6" y1="773.2" x2="1118.9" y2="773.2" stroke="#8a8a8a" stroke-width="1.2"/>
<line x1="41.6" y1="1188.5" x2="1118.9" y2="1188.5" stroke="#a4a6cc" stroke-width="1.2"/>
<line x1="44" y1="773.2" x2="44" y2="783.7" stroke="#8a8a8a" stroke-width="1.2"/>
<line x1="258.6" y1="773.2" x2="258.6" y2="783.7" stroke="#8a8a8a" stroke-width="1.2"/>
<line x1="473.8" y1="773.2" x2="473.8" y2="783.7" stroke="#8a8a8a" stroke-width="1.2"/>
<line x1="688.7" y1="773.2" x2="688.7" y2="783.7" stroke="#8a8a8a" stroke-width="1.2"/>
<line x1="903.4" y1="773.2" x2="903.4" y2="783.7" stroke="#8a8a8a" stroke-width="1.2"/>
<line x1="1118.1" y1="773.2" x2="1118.1" y2="783.7" stroke="#8a8a8a" stroke-width="1.2"/>
<line x1="41.6" y1="773.2" x2="41.6" y2="1188.5" stroke="#f39de6" stroke-width="1.1"/>
<line x1="41.6" y1="773.2" x2="51.6" y2="773.2" stroke="#f39de6" stroke-width="1.2"/>
<text x="37.1" y="777.3" text-anchor="end" class="ax" fill="#e83ccf">1.05</text>
<line x1="41.6" y1="856.26" x2="51.6" y2="856.26" stroke="#f39de6" stroke-width="1.2"/>
<text x="37.1" y="860.36" text-anchor="end" class="ax" fill="#e83ccf">1</text>
<line x1="41.6" y1="939.32" x2="51.6" y2="939.32" stroke="#f39de6" stroke-width="1.2"/>
<text x="37.1" y="943.42" text-anchor="end" class="ax" fill="#e83ccf">0.95</text>
<line x1="41.6" y1="1022.38" x2="51.6" y2="1022.38" stroke="#f39de6" stroke-width="1.2"/>
<text x="37.1" y="1026.48" text-anchor="end" class="ax" fill="#e83ccf">0.9</text>
<line x1="41.6" y1="1105.44" x2="51.6" y2="1105.44" stroke="#f39de6" stroke-width="1.2"/>
<text x="37.1" y="1109.54" text-anchor="end" class="ax" fill="#e83ccf">0.85</text>
<line x1="41.6" y1="1188.5" x2="51.6" y2="1188.5" stroke="#f39de6" stroke-width="1.2"/>
<text x="37.1" y="1192.6" text-anchor="end" class="ax" fill="#e83ccf">0.8</text>
<line x1="1118.9" y1="773.2" x2="1118.9" y2="1188.5" stroke="#a4a6cc" stroke-width="1.1"/>
<line x1="1108.9" y1="773.2" x2="1118.9" y2="773.2" stroke="#a4a6cc" stroke-width="1.2"/>
<text x="1123.9" y="777.5" class="ax" fill="#6d6f9f">0.05</text>
<line x1="1108.9" y1="814.73" x2="1118.9" y2="814.73" stroke="#a4a6cc" stroke-width="1.2"/>
<text x="1123.9" y="819.03" class="ax" fill="#6d6f9f">0.045</text>
<line x1="1108.9" y1="856.26" x2="1118.9" y2="856.26" stroke="#a4a6cc" stroke-width="1.2"/>
<text x="1123.9" y="860.56" class="ax" fill="#6d6f9f">0.04</text>
<line x1="1108.9" y1="897.79" x2="1118.9" y2="897.79" stroke="#a4a6cc" stroke-width="1.2"/>
<text x="1123.9" y="902.09" class="ax" fill="#6d6f9f">0.035</text>
<line x1="1108.9" y1="939.32" x2="1118.9" y2="939.32" stroke="#a4a6cc" stroke-width="1.2"/>
<text x="1123.9" y="943.62" class="ax" fill="#6d6f9f">0.03</text>
<line x1="1108.9" y1="980.85" x2="1118.9" y2="980.85" stroke="#a4a6cc" stroke-width="1.2"/>
<text x="1123.9" y="985.15" class="ax" fill="#6d6f9f">0.025</text>
<line x1="1108.9" y1="1022.38" x2="1118.9" y2="1022.38" stroke="#a4a6cc" stroke-width="1.2"/>
<text x="1123.9" y="1026.68" class="ax" fill="#6d6f9f">0.02</text>
<line x1="1108.9" y1="1063.91" x2="1118.9" y2="1063.91" stroke="#a4a6cc" stroke-width="1.2"/>
<text x="1123.9" y="1068.21" class="ax" fill="#6d6f9f">0.015</text>
<line x1="1108.9" y1="1105.44" x2="1118.9" y2="1105.44" stroke="#a4a6cc" stroke-width="1.2"/>
<text x="1123.9" y="1109.74" class="ax" fill="#6d6f9f">0.01</text>
<line x1="1108.9" y1="1146.97" x2="1118.9" y2="1146.97" stroke="#a4a6cc" stroke-width="1.2"/>
<text x="1123.9" y="1151.27" class="ax" fill="#6d6f9f">0.005</text>
<line x1="1108.9" y1="1188.5" x2="1118.9" y2="1188.5" stroke="#a4a6cc" stroke-width="1.2"/>
<text x="1123.9" y="1192.8" class="ax" fill="#6d6f9f">0</text>
<text x="44" y="1203.3" text-anchor="middle" class="xl">2019-01-01</text>
<text x="258.6" y="1203.3" text-anchor="middle" class="xl">2020-01-01</text>
<text x="473.8" y="1203.3" text-anchor="middle" class="xl">2021-01-01</text>
<text x="688.7" y="1203.3" text-anchor="middle" class="xl">2022-01-01</text>
<text x="903.4" y="1203.3" text-anchor="middle" class="xl">2023-01-01</text>
<text x="1118.1" y="1203.3" text-anchor="middle" class="xl">2024-01-01</text>
<rect x="1045.5" y="781.3" width="66" height="27" fill="#fff" stroke="#8f8f8f" stroke-width="1"/>
<line x1="1049.5" y1="789.3" x2="1078.5" y2="789.3" stroke="#ee44cc" stroke-width="2"/>
<rect x="1049.5" y="797.3" width="29" height="8" fill="#606296" stroke="#5a5c95" stroke-width="0.5"/>
<text x="1081.5" y="792.8" class="lg">Center</text>
<text x="1081.5" y="804.8" class="lg">Range</text>
<text transform="translate(0 12.5) scale(1.052 1)" class="an" fill="#f00000" stroke="#f00000">China–US trade war</text>
<text transform="translate(0 36.72) scale(1.052 1)" class="an" fill="#0e6cbf" stroke="#0e6cbf">On May 10, 2019, the</text>
<text transform="translate(0 60.94) scale(1.052 1)" class="an" fill="#0e6cbf" stroke="#0e6cbf">United States imposed</text>
<text transform="translate(0 85.16) scale(1.052 1)" class="an" fill="#0e6cbf" stroke="#0e6cbf">tariffs on $200 billion</text>
<text transform="translate(0 109.38) scale(1.052 1)" class="an" fill="#0e6cbf" stroke="#0e6cbf">worth of Chinese goods.</text>
<text transform="translate(251.7 23) scale(1.052 1)" class="an" fill="#f00000" stroke="#f00000">COVID-19</text>
<text transform="translate(251.7 47.2) scale(1.052 1)" class="an" fill="#0e6cbf" stroke="#0e6cbf">On Dec 31, 2019,</text>
<text transform="translate(251.7 71.4) scale(1.052 1)" class="an" fill="#0e6cbf" stroke="#0e6cbf">the NHC expert</text>
<text transform="translate(251.7 95.6) scale(1.052 1)" class="an" fill="#0e6cbf" stroke="#0e6cbf">group arrived in</text>
<text transform="translate(251.7 119.8) scale(1.052 1)" class="an" fill="#0e6cbf" stroke="#0e6cbf">Wuhan and</text>
<text transform="translate(251.7 144) scale(1.052 1)" class="an" fill="#0e6cbf" stroke="#0e6cbf">issued the first</text>
<text transform="translate(251.7 168.2) scale(1.052 1)" class="an" fill="#0e6cbf" stroke="#0e6cbf">official report.</text>
<text transform="translate(428 85.8) scale(1.052 1)" class="an" fill="#f00000" stroke="#f00000">RMB internationalization</text>
<text transform="translate(428 110.05) scale(1.052 1)" class="an" fill="#0e6cbf" stroke="#0e6cbf">On July 16, 2021, the</text>
<text transform="translate(428 134.3) scale(1.052 1)" class="an" fill="#0e6cbf" stroke="#0e6cbf">PBOC released the</text>
<text transform="translate(428 158.55) scale(1.052 1)" class="an" fill="#0e6cbf" stroke="#0e6cbf">&quot;White Paper on the</text>
<text transform="translate(428 182.8) scale(1.052 1)" class="an" fill="#0e6cbf" stroke="#0e6cbf">Development of China's</text>
<text transform="translate(428 207.05) scale(1.052 1)" class="an" fill="#0e6cbf" stroke="#0e6cbf">Digital Currency.</text>
<text transform="translate(677 26.6) scale(1.052 1)" class="an" fill="#f00000" stroke="#f00000">Russia, oil trade</text>
<text transform="translate(677 50.82) scale(1.052 1)" class="an" fill="#0e6cbf" stroke="#0e6cbf">On February 24, 2022,</text>
<text transform="translate(677 75.04) scale(1.052 1)" class="an" fill="#0e6cbf" stroke="#0e6cbf">the Russia-Ukraine</text>
<text transform="translate(677 99.26) scale(1.052 1)" class="an" fill="#0e6cbf" stroke="#0e6cbf">conflict erupted.</text>
<text transform="translate(922 22.8) scale(1.052 1)" class="an" fill="#f00000" stroke="#f00000">Fed interest rate hikes</text>
<text transform="translate(922 47.02) scale(1.052 1)" class="an" fill="#0e6cbf" stroke="#0e6cbf">The Federal Reserve announced</text>
<text transform="translate(922 71.24) scale(1.052 1)" class="an" fill="#0e6cbf" stroke="#0e6cbf">interest rate hikes in February,</text>
<text transform="translate(922 95.46) scale(1.052 1)" class="an" fill="#0e6cbf" stroke="#0e6cbf">March, May, and July 2023.</text>
<text x="8.6" y="662.2" class="an2" fill="#f00000" stroke="#f00000">Brexit</text>
<text x="3.4" y="687" class="an2" fill="#0e6cbf" stroke="#0e6cbf">The UK held multiple</text>
<text x="3.4" y="711.87" class="an2" fill="#0e6cbf" stroke="#0e6cbf">parliamentary sessions</text>
<text x="3.4" y="736.74" class="an2" fill="#0e6cbf" stroke="#0e6cbf">on Brexit referendum</text>
<text x="3.4" y="761.61" class="an2" fill="#0e6cbf" stroke="#0e6cbf">from Jan 15, 2019.</text>
<text x="236.5" y="668.1" class="an2" fill="#f00000" stroke="#f00000">COVID-19</text>
<text x="236.5" y="693" class="an2" fill="#0e6cbf" stroke="#0e6cbf">On January 24, 2020, France</text>
<text x="236.5" y="717.9" class="an2" fill="#0e6cbf" stroke="#0e6cbf">confirmed the first case of</text>
<text x="236.5" y="742.8" class="an2" fill="#0e6cbf" stroke="#0e6cbf">COVID-19 in Europe.</text>
<text x="408.1" y="804.4" class="an2" fill="#f00000" stroke="#f00000">Digital currency</text>
<text x="408.1" y="829.3" class="an2" fill="#0e6cbf" stroke="#0e6cbf">The European Central</text>
<text x="408.1" y="854.2" class="an2" fill="#0e6cbf" stroke="#0e6cbf">Bank announced the</text>
<text x="408.1" y="879.1" class="an2" fill="#0e6cbf" stroke="#0e6cbf">official launch of the digital</text>
<text x="408.1" y="904" class="an2" fill="#0e6cbf" stroke="#0e6cbf">euro project in July 2021.</text>
<text x="667.4" y="684.6" class="an2" fill="#f00000" stroke="#f00000">Russia-Ukraine conflict</text>
<text x="667.4" y="709.2" class="an2" fill="#0e6cbf" stroke="#0e6cbf">On February 24, 2022,</text>
<text x="667.4" y="733.8" class="an2" fill="#0e6cbf" stroke="#0e6cbf">the Russia-Ukraine</text>
<text x="667.4" y="758.4" class="an2" fill="#0e6cbf" stroke="#0e6cbf">conflict erupted.</text>
<text x="915.25" y="674.4" class="an2" fill="#f00000" stroke="#f00000">The Federal Reserve</text>
<text x="915.25" y="699.3" class="an2" fill="#0e6cbf" stroke="#0e6cbf">The Federal Reserve announced</text>
<text x="915.25" y="724.2" class="an2" fill="#0e6cbf" stroke="#0e6cbf">interest rate hikes in February,</text>
<text x="915.25" y="749.1" class="an2" fill="#0e6cbf" stroke="#0e6cbf">March, May, and July 2023.</text>
<path d="M110.7 121.6L132.8 303.3" fill="none" stroke="#0e6cbf" stroke-width="3" stroke-linecap="butt"/>
<path d="M125.8 288.6L132.8 303.3L137.8 287" fill="none" stroke="#0e6cbf" stroke-width="3" stroke-linecap="round" stroke-linejoin="round"/>
<path d="M298.3 187.5L276.3 259.7" fill="none" stroke="#0e6cbf" stroke-width="3" stroke-linecap="butt"/>
<path d="M274.2 246.7L276.3 259.7L286.3 250" fill="none" stroke="#0e6cbf" stroke-width="3" stroke-linecap="round" stroke-linejoin="round"/>
<path d="M559.4 215.8L602.3 428.1" fill="none" stroke="#0e6cbf" stroke-width="3" stroke-linecap="butt"/>
<path d="M595.5 417.5L602.3 428.1L607.3 416" fill="none" stroke="#0e6cbf" stroke-width="3" stroke-linecap="round" stroke-linejoin="round"/>
<path d="M750.5 111.5L745 287" fill="none" stroke="#0e6cbf" stroke-width="3" stroke-linecap="butt"/>
<path d="M738.5 275.5L745 287L752.5 275.5" fill="none" stroke="#0e6cbf" stroke-width="3" stroke-linecap="round" stroke-linejoin="round"/>
<path d="M1010 110L944.25 271" fill="none" stroke="#0e6cbf" stroke-width="3" stroke-linecap="butt"/>
<path d="M943.5 258.25L944.25 271L954.75 262.75" fill="none" stroke="#0e6cbf" stroke-width="3" stroke-linecap="round" stroke-linejoin="round"/>
<path d="M77.8 780.8L66.5 1041.25" fill="none" stroke="#0e6cbf" stroke-width="3" stroke-linecap="butt"/>
<path d="M61.25 1031.25L66.5 1041.25L73 1032" fill="none" stroke="#0e6cbf" stroke-width="3" stroke-linecap="round" stroke-linejoin="round"/>
<path d="M340 762.5L312 916" fill="none" stroke="#0e6cbf" stroke-width="3" stroke-linecap="butt"/>
<path d="M308.5 904.2L312 916L320.4 905.5" fill="none" stroke="#0e6cbf" stroke-width="3" stroke-linecap="round" stroke-linejoin="round"/>
<path d="M516.3 913.2L581.5 1097.3" fill="none" stroke="#0e6cbf" stroke-width="3" stroke-linecap="butt"/>
<path d="M571.5 1088.75L581.5 1097.3L583.25 1085" fill="none" stroke="#0e6cbf" stroke-width="3" stroke-linecap="round" stroke-linejoin="round"/>
<path d="M742.5 762.8L713.75 960" fill="none" stroke="#0e6cbf" stroke-width="3" stroke-linecap="butt"/>
<path d="M709.5 948.75L713.75 960L722 950.5" fill="none" stroke="#0e6cbf" stroke-width="3" stroke-linecap="round" stroke-linejoin="round"/>
<path d="M982 760L953.1 957.9" fill="none" stroke="#0e6cbf" stroke-width="3" stroke-linecap="butt"/>
<path d="M948.3 945.8L953.1 957.9L961.3 947.8" fill="none" stroke="#0e6cbf" stroke-width="3" stroke-linecap="round" stroke-linejoin="round"/>
<text x="467.9" y="612.4" class="cap" textLength="40.2" lengthAdjust="spacingAndGlyphs">(a)</text>
<text x="524.2" y="612.4" class="cap" textLength="71.3" lengthAdjust="spacingAndGlyphs">USD</text>
<text x="607.95" y="612.4" class="cap" textLength="32.55" lengthAdjust="spacingAndGlyphs">to</text>
<text x="652.9" y="612.4" class="cap" textLength="78" lengthAdjust="spacingAndGlyphs">CNY</text>
<text x="468.1" y="1278.6" class="cap" textLength="42.9" lengthAdjust="spacingAndGlyphs">(b)</text>
<text x="526.9" y="1278.6" class="cap" textLength="70.4" lengthAdjust="spacingAndGlyphs">USD</text>
<text x="610.9" y="1278.6" class="cap" textLength="31.4" lengthAdjust="spacingAndGlyphs">to</text>
<text x="654" y="1278.6" class="cap" textLength="75.1" lengthAdjust="spacingAndGlyphs">EUR</text>
</svg></body></html>
